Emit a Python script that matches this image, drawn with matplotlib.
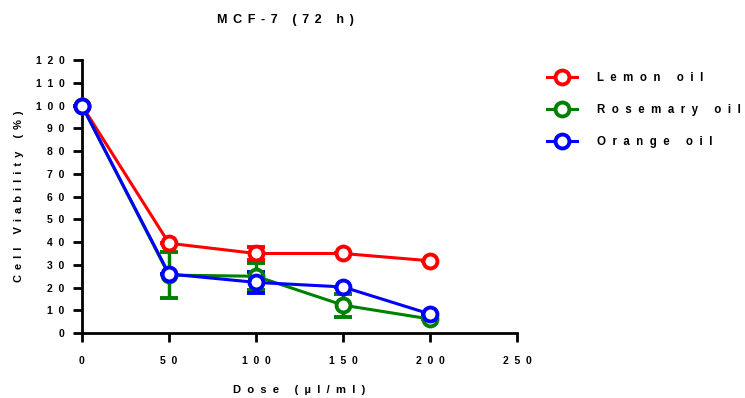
import matplotlib
matplotlib.use("Agg")
import matplotlib.pyplot as plt
from matplotlib.lines import Line2D

doses = [0, 50, 100, 150, 200]
lemon = [100, 39.5, 35, 35, 31.8]
lemon_err = [0, 0, 3, 0, 0]
rosemary = [100, 25.5, 25, 12.3, 6.2]
rosemary_err = [0, 10, 6, 5, 0]
orange = [100, 26, 22.3, 20.3, 8.4]
orange_err = [0, 0, 4.5, 0, 0]
series_names = ["Lemon oil", "Rosemary oil", "Orange oil"]
colors = ["#ff0000", "#008000", "#0000ff"]
xticks = [0, 50, 100, 150, 200, 250]
yticks = list(range(0, 121, 10))

def sp(s, j="  "):
    return j.join(s)

NARROW = " \u2006"

plt.rcParams['font.family'] = ['Liberation Sans', 'DejaVu Sans']
fig = plt.figure(figsize=(7.45, 3.98), dpi=100)
ax = fig.add_axes([0.110, 0.163, 0.584, 0.686])

handles = []
for vals, errs, name, c in zip([lemon, rosemary, orange], [lemon_err, rosemary_err, orange_err], series_names, colors):
    ax.errorbar(doses, vals, yerr=errs, color=c, lw=2.2, elinewidth=2.5, capsize=6.5, capthick=2.8,
                marker='o', markersize=10, markerfacecolor='white', markeredgecolor=c, markeredgewidth=2.8,
                clip_on=False, zorder=3)
    handles.append(Line2D([], [], color=c, lw=2.2, marker='o', markersize=10, markerfacecolor='white',
                          markeredgecolor=c, markeredgewidth=2.8, label=sp(name)))

ax.set_xlim(0, 250)
ax.set_ylim(0, 120)
ax.set_xticks(xticks)
ax.set_yticks(yticks)
ax.set_xticklabels([sp(str(t)) for t in xticks], fontsize=7.5, fontweight='bold')
ax.set_yticklabels([sp(str(t)) for t in yticks], fontsize=7.5, fontweight='bold')
ax.spines['top'].set_visible(False)
ax.spines['right'].set_visible(False)
ax.spines['left'].set_linewidth(2)
ax.spines['bottom'].set_linewidth(2)
ax.tick_params(axis='both', width=2, length=6.5, direction='out')
ax.tick_params(axis='x', pad=10)
ax.tick_params(axis='y', pad=6)

ax.set_xlabel(sp("Dose (µl/ml)"), fontsize=8, fontweight='bold', labelpad=14)
ax.set_ylabel(sp("Cell Viability (%)", NARROW), fontsize=8, fontweight='bold', labelpad=8.5)
fig.text(0.383, 0.950, sp("MCF-7 (72 h)", NARROW), fontsize=9, fontweight='bold', ha='center', va='center')

ax.legend(handles=handles, loc='upper left', bbox_to_anchor=(1.045, 0.994), frameon=False,
          prop={'weight': 'bold', 'size': 8.3}, labelspacing=1.73, handlelength=2.6, handletextpad=1.75)

fig.savefig("out.png", dpi=100)
